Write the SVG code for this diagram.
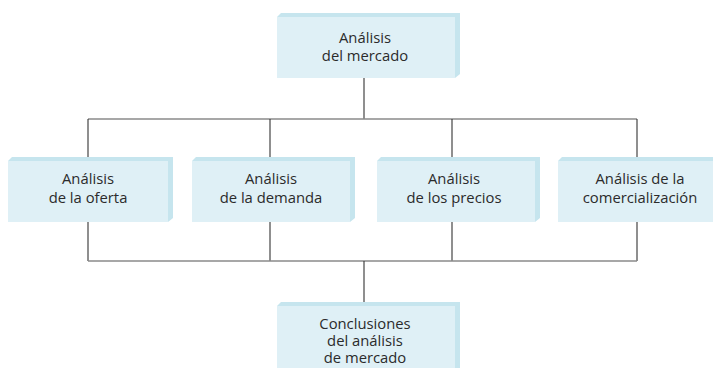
<svg xmlns="http://www.w3.org/2000/svg" width="713" height="368" viewBox="0 0 713 368">
<style>
.face{fill:#dff0f6}
.bevel{fill:#c6e5ee}
.t{font-family:"Open Sans","Noto Sans",sans-serif;font-size:14.8px;fill:#2b2b2b;text-anchor:middle}
.h{stroke:#8a8a8a;stroke-width:1.6;fill:none}
.v{stroke:#333;stroke-width:1.1;fill:none}
</style>
<rect width="713" height="368" fill="#fff"/>
<g id="connectors">
<line class="v" x1="364" y1="78" x2="364" y2="119"/>
<line class="h" x1="88" y1="119" x2="637" y2="119"/>
<line class="v" x1="88" y1="119" x2="88" y2="157"/>
<line class="v" x1="270" y1="119" x2="270" y2="157"/>
<line class="v" x1="452" y1="119" x2="452" y2="157"/>
<line class="v" x1="637" y1="119" x2="637" y2="157"/>
<line class="v" x1="88" y1="222" x2="88" y2="261"/>
<line class="v" x1="270" y1="222" x2="270" y2="261"/>
<line class="v" x1="452" y1="222" x2="452" y2="261"/>
<line class="v" x1="637" y1="222" x2="637" y2="261"/>
<line class="h" x1="88" y1="261" x2="637" y2="261"/>
<line class="v" x1="364" y1="261" x2="364" y2="302"/>
</g>
<g id="mercado">
<polygon class="bevel" points="277,17 281,13 460,13 460,74 455,78 455,17"/>
<rect class="face" x="277" y="17" width="178" height="61"/>
<text class="t" x="365" y="43">Análisis</text>
<text class="t" x="365" y="61">del mercado</text>
</g>
<g id="oferta">
<polygon class="bevel" points="8,161 12,157 173,157 173,218 168,222 168,161"/>
<rect class="face" x="8" y="161" width="160" height="61"/>
<text class="t" x="88" y="184">Análisis</text>
<text class="t" x="88" y="203">de la oferta</text>
</g>
<g id="demanda">
<polygon class="bevel" points="192,161 196,157 355,157 355,218 350,222 350,161"/>
<rect class="face" x="192" y="161" width="158" height="61"/>
<text class="t" x="271" y="184">Análisis</text>
<text class="t" x="271" y="203">de la demanda</text>
</g>
<g id="precios">
<polygon class="bevel" points="377,161 381,157 540,157 540,218 535,222 535,161"/>
<rect class="face" x="377" y="161" width="158" height="61"/>
<text class="t" x="454" y="184">Análisis</text>
<text class="t" x="454" y="203">de los precios</text>
</g>
<g id="comercializacion">
<polygon class="bevel" points="558,161 562,157 723,157 723,218 718,222 718,161"/>
<rect class="face" x="558" y="161" width="160" height="61"/>
<text class="t" x="640" y="184">Análisis de la</text>
<text class="t" x="640" y="203">comercialización</text>
</g>
<g id="conclusiones">
<polygon class="bevel" points="277,306 281,302 460,302 460,380 455,380 455,306"/>
<rect class="face" x="277" y="306" width="178" height="70"/>
<text class="t" x="365" y="329">Conclusiones</text>
<text class="t" x="365" y="346">del análisis</text>
<text class="t" x="365" y="363">de mercado</text>
</g>
</svg>
